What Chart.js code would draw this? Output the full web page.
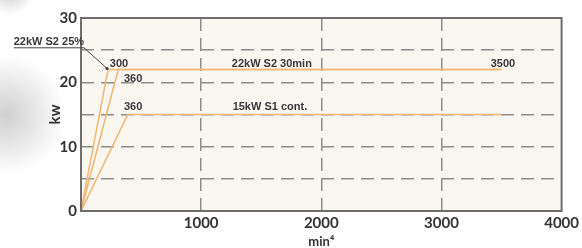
<!DOCTYPE html>
<html>
<head>
    <meta charset="UTF-8">
    <title>Motor power</title>
    <script src="https://cdn.jsdelivr.net/npm/chart.js@4/dist/chart.umd.min.js"></script>
    <style>
        body { margin: 0; background: #fff; }
    </style>
</head>
<body>
<canvas id="power-chart" width="582" height="248"></canvas>
<script type="text/javascript">
    // speed (min-1) and power (kW) points
    var s2_25_x = [0, 225, 3500];
    var s2_25_y = [0, 22, 22];
    var s2_30_x = [0, 310, 3500];
    var s2_30_y = [0, 22, 22];
    var s1_x = [0, 390, 3500];
    var s1_y = [0, 15, 15];

    var xTickLabels = [1000, 2000, 3000, 4000];
    var yTickLabels = [0, 10, 20, 30];

    function toPoints(xs, ys) {
        return xs.map(function (x, i) { return {x: x, y: ys[i]}; });
    }

    /* Labels written on the plot, placed in data units */
    var notes = [
        {text: '22kW S2 25%', x: -560, y: 26.3, underline: true},
        {text: '300', x: 240, y: 22.9},
        {text: '360', x: 357, y: 20.5},
        {text: '360', x: 357, y: 16.2},
        {text: '22kW S2 30min', x: 1255, y: 22.9},
        {text: '3500', x: 3410, y: 22.9},
        {text: '15kW S1 cont.', x: 1262, y: 16.1}
    ];

    var backdrop = {
        id: 'backdrop',
        beforeDraw: function (chart) {
            var c = chart.ctx, a = chart.chartArea;
            c.save();
            c.fillStyle = '#ffffff';
            c.fillRect(0, 0, chart.width, chart.height);
            // grey smudge on the left edge
            var g = c.createRadialGradient(6, 115, 2, 6, 115, 60);
            g.addColorStop(0, 'rgba(140,140,140,0.4)');
            g.addColorStop(1, 'rgba(140,140,140,0)');
            c.fillStyle = g;
            c.fillRect(0, 40, 70, 150);
            var g2 = c.createRadialGradient(10, -10, 5, 10, -10, 25);
            g2.addColorStop(0, 'rgba(150,150,150,0.4)');
            g2.addColorStop(1, 'rgba(150,150,150,0)');
            c.fillStyle = g2;
            c.fillRect(0, 0, 50, 20);
            c.fillStyle = '#faf7f1';
            c.fillRect(a.left, a.top, a.right - a.left, a.bottom - a.top);
            c.restore();
        },
        afterDraw: function (chart) {
            var c = chart.ctx, a = chart.chartArea;
            var sx = chart.scales.x, sy = chart.scales.y;
            c.save();
            c.strokeStyle = '#6e6e6e';
            c.lineWidth = 2;
            c.strokeRect(a.left, a.top, a.right - a.left, a.bottom - a.top);

            c.fillStyle = '#383838';
            c.font = '600 11px "Liberation Sans", Arial, sans-serif';
            c.textBaseline = 'middle';
            c.textAlign = 'left';
            notes.forEach(function (n) {
                var px = sx.getPixelForValue(n.x);
                var py = sy.getPixelForValue(n.y);
                c.fillText(n.text, px, py);
                if (n.underline) {
                    var w = c.measureText(n.text).width;
                    var ex = sx.getPixelForValue(s2_25_x[1]) - 1;
                    var ey = sy.getPixelForValue(s2_25_y[1]) - 1;
                    c.strokeStyle = '#444';
                    c.lineWidth = 1;
                    c.beginPath();
                    c.moveTo(px, py + 6);
                    c.lineTo(px + w, py + 6);
                    c.lineTo(ex, ey);
                    c.stroke();
                    c.beginPath();
                    c.arc(ex, ey, 1.5, 0, Math.PI * 2);
                    c.fill();
                }
            });
            c.restore();
        }
    };

    function gridColor(ctx) {
        var v = ctx.tick.value;
        if (ctx.scale.id === 'x' && (v === 0 || v === 4000)) return 'transparent';
        if (ctx.scale.id === 'y' && (v === 0 || v === 30)) return 'transparent';
        return '#8c8c8c';
    }

    var lineStyle = {borderColor: '#f0b878', borderWidth: 1.6, pointRadius: 0, fill: false, tension: 0};

    var config = {
        type: 'line',
        data: {
            datasets: [
                Object.assign({label: '22kW S2 25%', data: toPoints(s2_25_x, s2_25_y)}, lineStyle),
                Object.assign({label: '22kW S2 30min', data: toPoints(s2_30_x, s2_30_y)}, lineStyle),
                Object.assign({label: '15kW S1 cont.', data: toPoints(s1_x, s1_y)}, lineStyle)
            ]
        },
        options: {
            responsive: false,
            animation: false,
            layout: {padding: {left: 44, top: 18, right: 20, bottom: 0}},
            plugins: {legend: {display: false}, tooltip: {enabled: false}},
            scales: {
                x: {
                    type: 'linear',
                    min: 0,
                    max: 4000,
                    afterFit: function (s) { s.height = 37; },
                    border: {display: false, dash: [13, 7]},
                    grid: {color: gridColor, lineWidth: 1.5, drawTicks: false},
                    ticks: {
                        stepSize: 1000,
                        padding: 3,
                        maxRotation: 0,
                        color: '#333',
                        font: {family: 'Lato', size: 15, weight: 'bold'},
                        callback: function (v) { return xTickLabels.indexOf(v) >= 0 ? String(v) : ''; }
                    },
                    title: {
                        display: true,
                        text: 'min\u2074',
                        color: '#333',
                        padding: {top: 0, bottom: 0},
                        font: {family: 'Lato', size: 13, weight: 'bold', lineHeight: 1}
                    }
                },
                y: {
                    min: 0,
                    max: 30,
                    afterFit: function (s) { s.width = 37; },
                    border: {display: false, dash: [13, 7]},
                    grid: {color: gridColor, lineWidth: 1.5, drawTicks: false},
                    ticks: {
                        stepSize: 5,
                        padding: 4,
                        color: '#333',
                        font: {family: 'Lato', size: 15, weight: 'bold'},
                        callback: function (v) { return yTickLabels.indexOf(v) >= 0 ? String(v) : ''; }
                    },
                    title: {
                        display: true,
                        text: 'kw',
                        color: '#333',
                        padding: {top: 2, bottom: 0},
                        font: {family: 'Lato', size: 15, weight: 'bold'}
                    }
                }
            }
        },
        plugins: [backdrop]
    };

    window.onload = function () {
        var ctx = document.getElementById('power-chart');
        window.powerChart = new Chart(ctx, config);
    };
</script>
</body>
</html>
